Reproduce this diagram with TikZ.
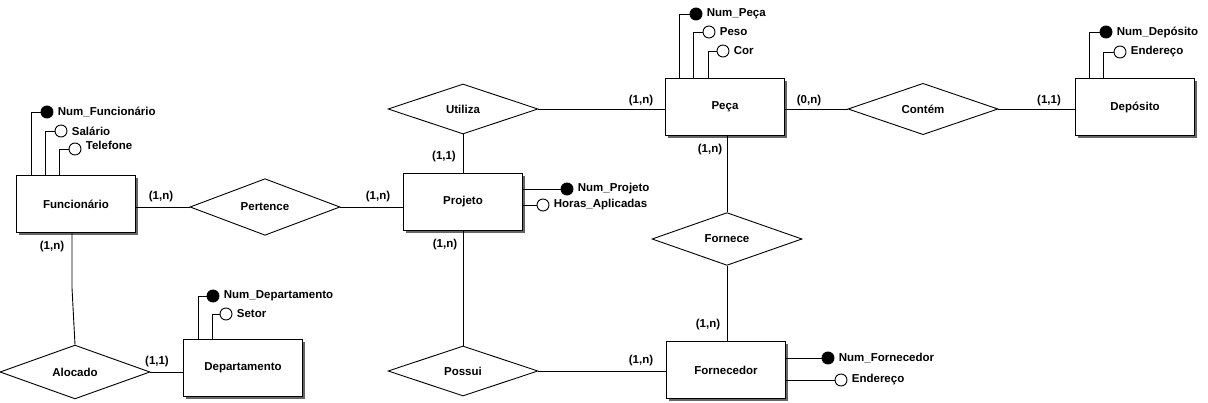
\documentclass[tikz,border=0pt]{standalone}
\usepackage{fontspec}
\setmainfont{Liberation Sans}
\usetikzlibrary{shapes.geometric,shadows}
\tikzset{
	entity/.style={draw, fill=white, minimum width=119pt, minimum height=57pt, drop shadow={shadow xshift=2.5pt, shadow yshift=-2.5pt, fill=black!60, opacity=1}},
	relation/.style={draw, diamond, fill=white, minimum width=150pt, minimum height=50pt, inner sep=0pt},
	key/.style={circle, draw, fill=black, minimum size=12pt, inner sep=0pt},
	attr/.style={circle, draw, fill=white, minimum size=12pt, inner sep=0pt},
	atxt/.style={anchor=west, inner sep=0pt, xshift=4pt},
	card/.style={inner sep=0pt}
}
\begin{document}
\begin{tikzpicture}[x=1pt, y=-1pt, line width=0.9pt, font=\bfseries\fontsize{11.5}{13}\selectfont]
		\useasboundingbox (0,0) rectangle (1208,403);
		% entidades
		\node[entity] (func) at (76,204) {Funcionário};
		\node[entity] (peca) at (725,107) {Peça};
		\node[entity] (depo) at (1135,107) {Depósito};
		\node[entity] (depa) at (243,368) {Departamento};
		\node[entity] (proj) at (463,202) {Projeto};
		\node[entity] (forn) at (726,370) {Fornecedor};
		% relacionamentos
		\node[relation] (pert) at (265,207) {Pertence};
		\node[relation] (aloc) at (75,372) {Alocado};
		\node[relation] (util) at (463,109) {Utiliza};
		\node[relation] (poss) at (463,371) {Possui};
		\node[relation] (forne) at (727,239) {Fornece};
		\node[relation] (cont) at (923,109) {Contém};
		% ligacoes
		\draw (pert.west) -- (pert.west -| func.east);
		\draw (pert.east) -- (pert.east -| proj.west);
		\draw ([xshift=-4pt]func.south) -- ++(0,55) -- (aloc.north);
		\draw (aloc.east) -- (aloc.east -| depa.west);
		\draw (util.east) -- (util.east -| peca.west);
		\draw (util.south) -- (util.south |- proj.north);
		\draw (poss.north) -- (poss.north |- proj.south);
		\draw (poss.east) -- (poss.east -| forn.west);
		\draw (forne.north) -- (forne.north |- peca.south);
		\draw (forne.south) -- (forne.south |- forn.north);
		\draw (cont.west) -- (cont.west -| peca.east);
		\draw (cont.east) -- (cont.east -| depo.west);
		% cardinalidades
		\node[card] at (161,197) {(1,n)};
		\node[card] at (378,197) {(1,n)};
		\node[card] at (52,247) {(1,n)};
		\node[card] at (157,362) {(1,1)};
		\node[card] at (641,101) {(1,n)};
		\node[card] at (444,157) {(1,1)};
		\node[card] at (445,245) {(1,n)};
		\node[card] at (641,361) {(1,n)};
		\node[card] at (710,150) {(1,n)};
		\node[card] at (708,325) {(1,n)};
		\node[card] at (809,101) {(0,n)};
		\node[card] at (1049,101) {(1,1)};
		% atributos Funcionario
		\node[key] (funcnum) at (47,112) {};
		\node[attr] (funcsal) at (61,131) {};
		\node[attr] (functel) at (75,149) {};
		\draw (funcnum.west) -| ([xshift=-45pt]func.north);
		\draw (funcsal.west) -| ([xshift=-31pt]func.north);
		\draw (functel.west) -| ([xshift=-17pt]func.north);
		\node[atxt] at (funcnum.east) {Num\_Funcionário};
		\node[atxt] at (funcsal.east) {Salário};
		\node[atxt, yshift=4pt] at (functel.east) {Telefone};
		% atributos Peca
		\node[key] (pecanum) at (696,14) {};
		\node[attr] (pecapeso) at (709,32) {};
		\node[attr] (pecacor) at (723,51) {};
		\draw (pecanum.west) -| ([xshift=-46pt]peca.north);
		\draw (pecapeso.west) -| ([xshift=-32pt]peca.north);
		\draw (pecacor.west) -| ([xshift=-17pt]peca.north);
		\node[atxt] at (pecanum.east) {Num\_Peça};
		\node[atxt] at (pecapeso.east) {Peso};
		\node[atxt] at (pecacor.east) {Cor};
		% atributos Deposito
		\node[key] (deponum) at (1106,32) {};
		\node[attr] (depoend) at (1120,52) {};
		\draw (deponum.west) -| ([xshift=-46pt]depo.north);
		\draw (depoend.west) -| ([xshift=-32pt]depo.north);
		\node[atxt] at (deponum.east) {Num\_Depósito};
		\node[atxt] at (depoend.east) {Endereço};
		% atributos Departamento
		\node[key] (depanum) at (213,296) {};
		\node[attr] (depaset) at (226,314) {};
		\draw (depanum.west) -| ([xshift=-45pt]depa.north);
		\draw (depaset.west) -| ([xshift=-31pt]depa.north);
		\node[atxt] at (depanum.east) {Num\_Departamento};
		\node[atxt] at (depaset.east) {Setor};
		% atributos Projeto
		\node[key] (projnum) at (567,189) {};
		\node[attr] (projhoras) at (543,205) {};
		\draw ([yshift=13pt]proj.east) -- (projnum.west);
		\draw ([yshift=-3pt]proj.east) -- (projhoras.west);
		\node[atxt] at (projnum.east) {Num\_Projeto};
		\node[atxt] at (projhoras.east) {Horas\_Aplicadas};
		% atributos Fornecedor
		\node[key] (fornnum) at (828,358) {};
		\node[attr] (fornend) at (841,380) {};
		\draw ([yshift=12pt]forn.east) -- (fornnum.west);
		\draw ([yshift=-10pt]forn.east) -- (fornend.west);
		\node[atxt] at (fornnum.east) {Num\_Fornecedor};
		\node[atxt] at (fornend.east) {Endereço};
	\end{tikzpicture}
\end{document}
